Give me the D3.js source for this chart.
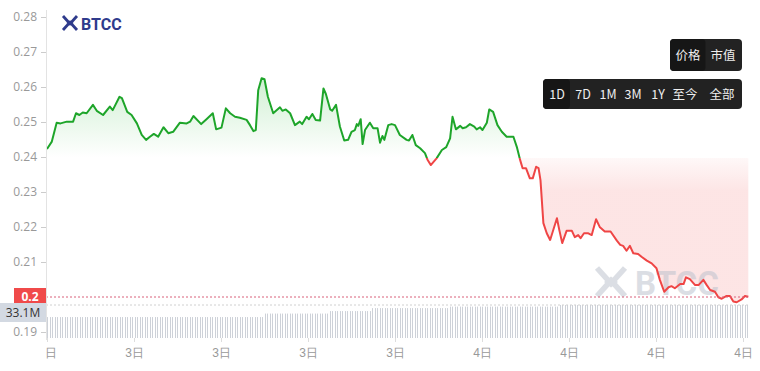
<!DOCTYPE html>
<html>
<head>
<meta charset="utf-8">
<script src="https://cdn.jsdelivr.net/npm/d3@7"></script>
<style>
  body { margin: 0; background: #fff; }
  svg { display: block; font-family: "Noto Sans CJK SC", "Noto Sans", sans-serif; }
</style>
</head>
<body>
<svg id="chart" width="760" height="371"></svg>
<script>
// price series, minutes after 3日 09:00
var priceMinutes = [0,10,20,28,41,54,60,67,74,82,95,103,116,130,136,150,155,166,175,186,196,205,213,221,230,241,251,261,275,289,296,303,319,330,343,350,361,370,379,389,399,413,420,427,432,437,444,450,457,468,482,487,494,503,513,523,528,537,542,549,556,565,572,577,586,590,598,606,615,623,630,637,641,644,649,653,658,668,675,684,689,694,698,706,713,720,730,744,749,756,763,772,782,787,794,806,817,826,834,839,846,855,860,867,875,884,889,896,901,910,915,923,932,941,951,965,972,979,984,991,999,1005,1012,1017,1021,1027,1034,1041,1055,1060,1066,1075,1086,1092,1099,1104,1111,1120,1127,1136,1144,1154,1166,1179,1186,1192,1199,1206,1213,1223,1230,1241,1251,1261,1268,1277,1286,1292,1299,1310,1317,1322,1330,1341,1348,1358,1365,1372,1382,1389,1396,1406,1413,1420,1427,1437,1444,1451];
var prices = [0.2423,0.2444,0.2498,0.2496,0.2501,0.2501,0.2525,0.2520,0.2527,0.2525,0.2549,0.2532,0.2520,0.2544,0.2534,0.2572,0.2568,0.2529,0.2520,0.2496,0.2463,0.2449,0.2458,0.2466,0.2458,0.2485,0.2468,0.2472,0.2498,0.2496,0.2501,0.2517,0.2494,0.2508,0.2525,0.2479,0.2484,0.2539,0.2525,0.2515,0.2512,0.2506,0.2491,0.2474,0.2477,0.2591,0.2625,0.2622,0.2572,0.2525,0.2542,0.2532,0.2536,0.2525,0.2491,0.2501,0.2494,0.2515,0.2508,0.2523,0.2506,0.2504,0.2596,0.2580,0.2536,0.2532,0.2549,0.2487,0.2447,0.2449,0.2472,0.2477,0.2494,0.2489,0.2508,0.2437,0.2477,0.2498,0.2482,0.2482,0.2441,0.2460,0.2449,0.2491,0.2494,0.2491,0.2463,0.2449,0.2447,0.2463,0.2434,0.2425,0.2411,0.2393,0.2377,0.2396,0.2420,0.2428,0.2453,0.2515,0.2479,0.2489,0.2482,0.2485,0.2494,0.2487,0.2479,0.2485,0.2477,0.2498,0.2536,0.2529,0.2491,0.2472,0.2458,0.2458,0.2429,0.2391,0.2368,0.2368,0.2339,0.2339,0.2372,0.2368,0.2334,0.2211,0.2182,0.2163,0.2225,0.2191,0.2154,0.2189,0.2189,0.2171,0.2177,0.2168,0.2182,0.2182,0.2177,0.2222,0.2199,0.2187,0.2187,0.2161,0.2149,0.2146,0.2132,0.2146,0.2125,0.2123,0.2115,0.2104,0.2096,0.2082,0.2049,0.2015,0.2028,0.2031,0.2025,0.2037,0.2037,0.2056,0.2051,0.2034,0.2034,0.2049,0.2034,0.2020,0.2015,0.1999,0.1995,0.2003,0.2003,0.1987,0.1985,0.1993,0.2003,0.2001];
var basePrice = 0.2398;
var lastPrice = 0.2;
// volume bars: [bar count, volume in M]
var volumeRuns = [[87,21],[26,24.5],[17,27],[31,30],[44,31.5],[76,33.1]];
var lastVolume = 33.1;
var yTicks = [0.19,0.21,0.22,0.23,0.24,0.25,0.26,0.27,0.28];
var modeButtons = ["价格","市值"];
var rangeButtons = ["1D","7D","1M","3M","1Y","至今","全部"];

var svg = d3.select("#chart");
var t0 = new Date(2024, 0, 3, 9, 0);
var data = priceMinutes.map(function (m, i) {
  return { t: new Date(t0.getTime() + m * 60000), v: prices[i] };
});

var x = d3.scaleTime()
  .domain([t0, new Date(t0.getTime() + 24 * 3600000)])
  .range([47, 743]);
var y = d3.scaleLinear().domain([0.19, 0.28]).range([332, 17]);

var volumes = [];
volumeRuns.forEach(function (r) { for (var k = 0; k < r[0]; k++) volumes.push(r[1]); });
var xv = d3.scaleBand().domain(d3.range(volumes.length)).range([47, 750]);
var yv = d3.scaleLinear().domain([0, lastVolume]).range([338, 305]);

var defs = svg.append("defs");
var gy1 = y(0.28), gy2 = y(0.19);
var off = (y(basePrice) - gy1) / (gy2 - gy1);

var lg = defs.append("linearGradient").attr("id", "lineGrad")
  .attr("gradientUnits", "userSpaceOnUse")
  .attr("x1", 0).attr("x2", 0).attr("y1", gy1).attr("y2", gy2);
lg.append("stop").attr("offset", off).attr("stop-color", "#1ea52a");
lg.append("stop").attr("offset", off).attr("stop-color", "#ef4545");

var ag = defs.append("linearGradient").attr("id", "areaGrad")
  .attr("gradientUnits", "userSpaceOnUse")
  .attr("x1", 0).attr("x2", 0).attr("y1", y(0.262)).attr("y2", y(0.199));
var aoff = (y(basePrice) - y(0.262)) / (y(0.199) - y(0.262));
ag.append("stop").attr("offset", 0).attr("stop-color", "#2db83a").attr("stop-opacity", 0.22);
ag.append("stop").attr("offset", aoff).attr("stop-color", "#2db83a").attr("stop-opacity", 0.0);
ag.append("stop").attr("offset", aoff).attr("stop-color", "#f05050").attr("stop-opacity", 0.04);
ag.append("stop").attr("offset", aoff + 0.15).attr("stop-color", "#f05050").attr("stop-opacity", 0.15);
ag.append("stop").attr("offset", 1).attr("stop-color", "#f05050").attr("stop-opacity", 0.15);

// left edge clip for the x axis labels (first label is cut)
defs.append("clipPath").attr("id", "xclip").append("rect")
  .attr("x", 45).attr("y", -5).attr("width", 715).attr("height", 40);

// volume bars
svg.append("g").selectAll("rect").data(volumes).enter().append("rect")
  .attr("x", function (d, i) { return Math.round(xv(i)); })
  .attr("y", function (d) { return yv(d); })
  .attr("width", 1)
  .attr("height", function (d) { return yv(0) - yv(d); })
  .attr("fill", "#cdd1d8");

// area + line
svg.append("path").datum(data)
  .attr("d", d3.area().x(function (d) { return x(d.t); }).y0(y(basePrice)).y1(function (d) { return y(d.v); }))
  .attr("fill", "url(#areaGrad)");

// watermarks
svg.append("text").attr("x", 385).attr("y", 180).attr("text-anchor", "middle")
  .attr("font-size", 24).attr("font-weight", "bold").attr("fill", "#fff").attr("opacity", 0.55)
  .text("BTCC Exchange");

function logoIcon(g, s, color) {
  // two chevrons forming an X
  var p = "M0,0 L" + (0.45 * s) + "," + (0.5 * s) + " L0," + s + " M" + s + ",0 L" + (0.55 * s) + "," + (0.5 * s) + " L" + s + "," + s;
  g.append("path").attr("d", p).attr("fill", "none").attr("stroke", color)
    .attr("stroke-width", s * 0.2).attr("stroke-linejoin", "miter");
  g.append("path").attr("d", "M" + (0.25 * s) + "," + (0.5 * s) + " L" + (0.5 * s) + "," + (0.3 * s) + " L" + (0.75 * s) + "," + (0.5 * s) + " L" + (0.5 * s) + "," + (0.7 * s) + "Z")
    .attr("fill", color);
}
var wm = svg.append("g").attr("transform", "translate(597,268)").attr("opacity", 0.5);
logoIcon(wm, 28, "#b9bfcb");
wm.append("text").attr("x", 38).attr("y", 27).attr("font-family", "Roboto, sans-serif")
  .attr("font-size", 33).attr("font-weight", "bold").attr("fill", "#b9bfcb").text("BTCC");

svg.append("path").datum(data)
  .attr("d", d3.line().x(function (d) { return x(d.t); }).y(function (d) { return y(d.v); }))
  .attr("fill", "none").attr("stroke", "url(#lineGrad)").attr("stroke-width", 2)
  .attr("stroke-linejoin", "round");

// current price / volume guides
svg.append("line").attr("x1", 46).attr("x2", 750).attr("y1", y(lastPrice)).attr("y2", y(lastPrice))
  .attr("stroke", "#d9607a").attr("stroke-dasharray", "2,2").attr("stroke-width", 1);
svg.append("line").attr("x1", 46).attr("x2", 750).attr("y1", yv(lastVolume)).attr("y2", yv(lastVolume))
  .attr("stroke", "#d0d0d0").attr("stroke-dasharray", "2,2").attr("stroke-width", 1);

// y axis
var ya = svg.append("g").attr("transform", "translate(46,0)")
  .call(d3.axisLeft(y).tickValues(yTicks).tickSize(5).tickPadding(4).tickFormat(d3.format(".2f")));
ya.select(".domain").remove();
ya.selectAll(".tick line").attr("stroke", "#ccc");
ya.selectAll(".tick text").attr("fill", "#999").attr("font-size", 12)
  .attr("font-family", "'Open Sans', 'Noto Sans', sans-serif");
svg.append("line").attr("x1", 46.5).attr("x2", 46.5).attr("y1", 10).attr("y2", 340).attr("stroke", "#e3e3e3");

// x axis
var xa = svg.append("g").attr("transform", "translate(0,338)").attr("clip-path", "url(#xclip)")
  .call(d3.axisBottom(x).ticks(d3.timeHour.every(3)).tickSize(4).tickPadding(6).tickFormat(d3.timeFormat("%-d日")));
xa.select(".domain").remove();
xa.selectAll(".tick line").attr("stroke", "#ddd");
xa.selectAll(".tick text").attr("fill", "#999").attr("font-size", 12);

// price label
svg.append("rect").attr("x", 14).attr("y", y(lastPrice) - 9).attr("width", 32).attr("height", 17).attr("fill", "#f04a4a");
svg.append("text").attr("x", 30).attr("y", y(lastPrice) + 4).attr("text-anchor", "middle")
  .attr("fill", "#fff").attr("font-size", 12).attr("font-weight", "bold")
  .attr("font-family", "'Open Sans', sans-serif").text(String(lastPrice));
// volume label
svg.append("rect").attr("x", 0).attr("y", 303).attr("width", 46).attr("height", 19).attr("fill", "#d3d9e2");
svg.append("text").attr("x", 23).attr("y", 317).attr("text-anchor", "middle")
  .attr("fill", "#333").attr("font-size", 12).attr("font-family", "'Open Sans', sans-serif")
  .text(lastVolume + "M");

// top-left logo
var lg2 = svg.append("g").attr("transform", "translate(63,16)");
logoIcon(lg2, 14, "#2f3b8c");
lg2.append("text").attr("x", 18).attr("y", 14).attr("font-family", "Roboto, sans-serif")
  .attr("font-size", 16).attr("font-weight", "bold").attr("fill", "#2f3b8c").text("BTCC");

// buttons
function buttonGroup(labels, xs, x0, x1, y0, h) {
  var g = svg.append("g");
  g.append("rect").attr("x", x0).attr("y", y0).attr("width", x1 - x0).attr("height", h).attr("rx", 4).attr("fill", "#222");
  g.append("rect").attr("x", x0).attr("y", y0).attr("width", (xs[0] + xs[1]) / 2 - x0).attr("height", h).attr("rx", 4).attr("fill", "#161616");
  g.selectAll("text").data(labels).enter().append("text")
    .attr("x", function (d, i) { return xs[i]; })
    .attr("y", y0 + h / 2 + 4.5)
    .attr("text-anchor", "middle").attr("font-size", 12.5).attr("fill", "#eee")
    .text(function (d) { return d; });
}
buttonGroup(modeButtons, [688, 723], 670, 742, 39, 32);
buttonGroup(rangeButtons, [557, 583, 608, 633, 658, 685, 722], 543, 742, 79, 30);
</script>
</body>
</html>
